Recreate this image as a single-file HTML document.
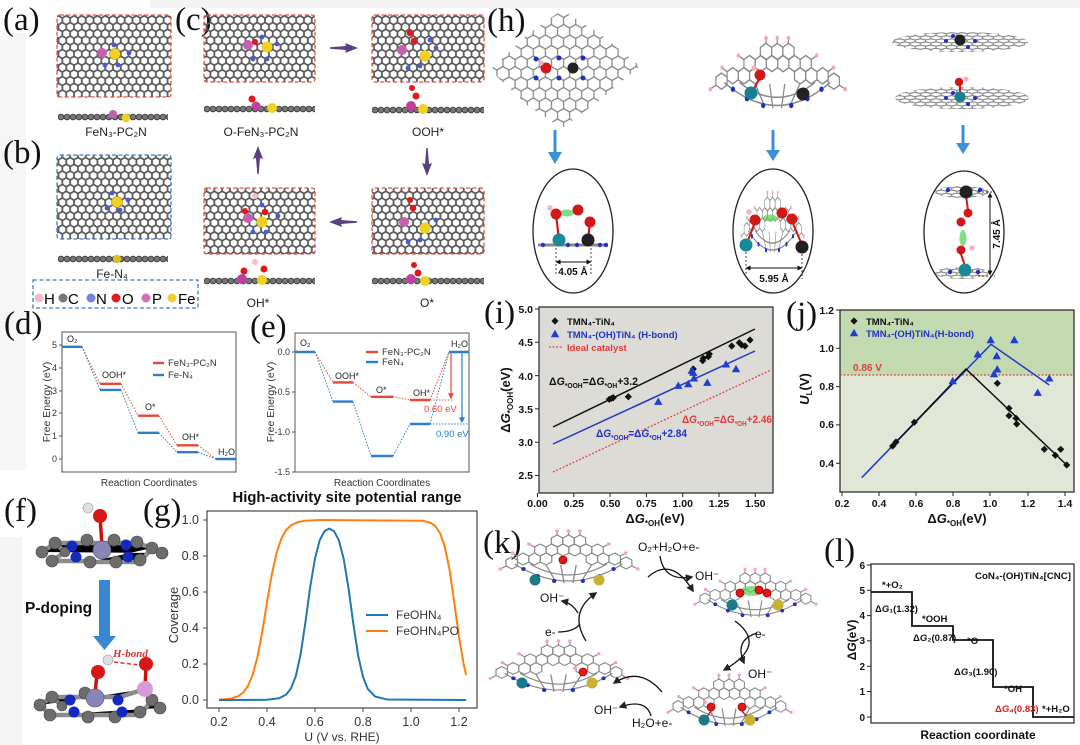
<!DOCTYPE html>
<html><head><meta charset="utf-8">
<style>
html,body{margin:0;padding:0;background:#fff;width:1080px;height:745px;overflow:hidden}
svg{display:block}
text{font-family:"Liberation Sans",Arial,sans-serif}
.lab{font-family:"Liberation Serif","Times New Roman",serif;font-size:33px;fill:#111}
.b{font-weight:bold}
</style></head><body>
<svg xmlns="http://www.w3.org/2000/svg" xmlns:xlink="http://www.w3.org/1999/xlink" width="1080" height="745" viewBox="0 0 1080 745">
<defs>
<pattern id="hexA" width="7.794" height="13.5" patternUnits="userSpaceOnUse"><path d="M3.897,0V2.25L7.794,4.5V9L3.897,11.25L0,9V4.5L3.897,2.25M3.897,11.25V13.5" fill="none" stroke="#5a5a5a" stroke-width="1.8"/></pattern>
<pattern id="hexH" width="12.12" height="21" patternUnits="userSpaceOnUse"><path d="M6.06,0V3.5L12.12,7V14L6.06,17.5L0,14V7L6.06,3.5M6.06,17.5V21" fill="none" stroke="#8a8a8a" stroke-width="1.3"/></pattern>
<pattern id="hexF" width="10.4" height="6.3" patternUnits="userSpaceOnUse"><path d="M5.2,0V1.05L10.4,2.1V4.2L5.2,5.25L0,4.2V2.1L5.2,1.05M5.2,5.25V6.3" fill="none" stroke="#808080" stroke-width="1.1"/></pattern>
<pattern id="chain" width="6" height="8" patternUnits="userSpaceOnUse"><circle cx="3" cy="4" r="2.9" fill="#777" stroke="#333" stroke-width="0.8"/></pattern>
<path id="hx" d="M0,-6L5.2,-3V3L0,6L-5.2,3V-3Z" fill="none" stroke="#8a8a8a" stroke-width="1.1"/>
<path id="dm" d="M0,-3.6L3.6,0L0,3.6L-3.6,0Z" fill="#111"/>
<path id="tr" d="M0,-4.2L4.2,3.2L-4.2,3.2Z" fill="#1f3fd0"/>
<marker id="ah" viewBox="0 0 10 10" refX="8" refY="5" markerWidth="6" markerHeight="6" orient="auto"><path d="M0,0L10,5L0,10z" fill="#222"/></marker>
<marker id="ahr" viewBox="0 0 10 10" refX="8" refY="5" markerWidth="5" markerHeight="5" orient="auto"><path d="M0,0L10,5L0,10z" fill="#e8473a"/></marker>
<marker id="ahb" viewBox="0 0 10 10" refX="8" refY="5" markerWidth="5" markerHeight="5" orient="auto"><path d="M0,0L10,5L0,10z" fill="#2a7fc8"/></marker>
<marker id="ahk" viewBox="0 0 10 10" refX="5" refY="5" markerWidth="5" markerHeight="5" orient="auto-start-reverse"><path d="M0,0L10,5L0,10z" fill="#111"/></marker>
<g id="bowl">
 <use href="#hx" x="54.6" y="7"/><use href="#hx" x="65" y="7"/><use href="#hx" x="75.4" y="7"/>
 <use href="#hx" x="39.4" y="16"/><use href="#hx" x="49.8" y="16"/><use href="#hx" x="60.2" y="16"/><use href="#hx" x="70.6" y="16"/><use href="#hx" x="81" y="16"/><use href="#hx" x="91.4" y="16"/>
 <use href="#hx" x="23.8" y="25"/><use href="#hx" x="34.2" y="25"/><use href="#hx" x="44.6" y="25"/><use href="#hx" x="86.2" y="25"/><use href="#hx" x="96.6" y="25"/><use href="#hx" x="107" y="25"/>
 <use href="#hx" x="13.4" y="29"/><use href="#hx" x="117.4" y="29"/>
 <path d="M54.6,1V-3M65,1V-3M75.4,1V-3M34,13L29,10M96.6,13L101.6,10M8.2,32L3,35M122.6,32L128,35M18.6,22L14,19M112.2,22L117,19" stroke="#8a8a8a" stroke-width="1.1"/>
 <g fill="#f2a8b4"><circle cx="54.6" cy="-3" r="1.7"/><circle cx="65" cy="-3" r="1.7"/><circle cx="75.4" cy="-3" r="1.7"/><circle cx="29" cy="10" r="1.7"/><circle cx="101.6" cy="10" r="1.7"/><circle cx="3" cy="35" r="1.7"/><circle cx="128" cy="35" r="1.7"/><circle cx="14" cy="19" r="1.7"/><circle cx="117" cy="19" r="1.7"/></g>
 <path d="M16,30Q65,64 114,30M30,30Q65,52 100,30M44.6,31L52,45M86,31L78,45M58,31L61,49M72,31L69,49" fill="none" stroke="#8a8a8a" stroke-width="1.2"/>
 <g fill="#1b30c8"><circle cx="24" cy="35" r="2"/><circle cx="37" cy="42" r="2"/><circle cx="52" cy="47" r="2"/><circle cx="78" cy="47" r="2"/><circle cx="93" cy="42" r="2"/><circle cx="106" cy="35" r="2"/></g>
</g>
<clipPath id="flk"><polygon points="490,70 528,34 562,10 600,34 640,66 600,100 562,128 528,106"/></clipPath>
</defs>

<rect width="1080" height="745" fill="#fff"/>
<rect x="150" y="0" width="930" height="8" fill="#f3f3f3"/>
<rect x="0" y="33" width="26" height="437" fill="#f6f6f6"/>
<rect x="0" y="537" width="22" height="208" fill="#f5f5f5"/>

<!-- (a) -->
<text class="lab" x="3" y="30">(a)</text>
<rect x="57" y="15" width="114" height="82" fill="url(#hexA)"/>
<rect x="57" y="15" width="114" height="82" fill="none" stroke="#e8503a" stroke-width="1.3" stroke-dasharray="4 2.5" rx="3"/>
<g fill="#4a5ad0"><circle cx="114" cy="45" r="2.4"/><circle cx="129" cy="53" r="2.4"/><circle cx="105" cy="65" r="2.4"/><circle cx="118" cy="65" r="2.4"/></g>
<circle cx="102" cy="53" r="5" fill="#c860b0"/>
<circle cx="115" cy="54" r="5.5" fill="#f0d020" stroke="#b09000" stroke-width=".6"/>
<g transform="translate(58,113)"><rect width="110" height="8" fill="url(#chain)"/></g>
<circle cx="113" cy="114" r="4" fill="#c860b0"/><circle cx="126" cy="118" r="4.2" fill="#f0d020"/>
<text x="116" y="136" font-size="12" text-anchor="middle" fill="#222">FeN₃-PC₂N</text>

<!-- (b) -->
<text class="lab" x="3" y="163">(b)</text>
<rect x="57" y="155" width="114" height="84" fill="url(#hexA)"/>
<rect x="57" y="155" width="114" height="84" fill="none" stroke="#3c7dc4" stroke-width="1.3" stroke-dasharray="4 2.5" rx="3"/>
<g fill="#4a5ad0"><circle cx="112" cy="193" r="2.4"/><circle cx="128" cy="200" r="2.4"/><circle cx="107" cy="208" r="2.4"/><circle cx="120" cy="210" r="2.4"/></g>
<circle cx="117" cy="202" r="5.5" fill="#f0d020" stroke="#b09000" stroke-width=".6"/>
<g transform="translate(58,255)"><rect width="110" height="8" fill="url(#chain)"/></g>
<circle cx="117" cy="259" r="4.2" fill="#d8c020"/>
<text x="112" y="278" font-size="12" text-anchor="middle" fill="#222">Fe-N₄</text>
<rect x="33" y="280" width="165" height="28" fill="none" stroke="#3c7dc4" stroke-width="1.3" stroke-dasharray="4 2.5"/>
<circle cx="39" cy="298" r="4.5" fill="#f4bccb"/><text x="44" y="304" font-size="15">H</text>
<circle cx="63" cy="298" r="4.5" fill="#777"/><text x="68" y="304" font-size="15">C</text>
<circle cx="91" cy="298" r="4.5" fill="#7482dc"/><text x="96" y="304" font-size="15">N</text>
<circle cx="116" cy="298" r="4.5" fill="#e02020"/><text x="122" y="304" font-size="15">O</text>
<circle cx="146" cy="298" r="4.5" fill="#d070b8"/><text x="152" y="304" font-size="15">P</text>
<circle cx="172" cy="298" r="4.5" fill="#f0d030"/><text x="178" y="304" font-size="15">Fe</text>

<!-- (c) -->
<text class="lab" x="175" y="30">(c)</text>
<g>
<rect x="204" y="15" width="111" height="67" fill="url(#hexA)"/>
<rect x="204" y="15" width="111" height="67" fill="none" stroke="#e8503a" stroke-width="1.3" stroke-dasharray="4 2.5" rx="3"/>
<rect x="372" y="15" width="112" height="67" fill="url(#hexA)"/>
<rect x="372" y="15" width="112" height="67" fill="none" stroke="#e8503a" stroke-width="1.3" stroke-dasharray="4 2.5" rx="3"/>
<rect x="204" y="188" width="111" height="66" fill="url(#hexA)"/>
<rect x="204" y="188" width="111" height="66" fill="none" stroke="#e8503a" stroke-width="1.3" stroke-dasharray="4 2.5" rx="3"/>
<rect x="372" y="188" width="112" height="66" fill="url(#hexA)"/>
<rect x="372" y="188" width="112" height="66" fill="none" stroke="#e8503a" stroke-width="1.3" stroke-dasharray="4 2.5" rx="3"/>
</g>
<g fill="#4a5ad0">
<circle cx="262" cy="37" r="2.4"/><circle cx="277" cy="44" r="2.4"/><circle cx="253" cy="59" r="2.4"/><circle cx="267" cy="59" r="2.4"/>
<circle cx="436" cy="48" r="2.4"/><circle cx="420" cy="66" r="2.4"/><circle cx="408" cy="68" r="2.4"/><circle cx="430" cy="40" r="2.4"/>
<circle cx="278" cy="216" r="2.4"/><circle cx="253" cy="232" r="2.4"/><circle cx="266" cy="232" r="2.4"/><circle cx="262" cy="205" r="2.4"/>
<circle cx="436" cy="220" r="2.4"/><circle cx="420" cy="240" r="2.4"/><circle cx="408" cy="242" r="2.4"/>
</g>
<circle cx="248" cy="45" r="5" fill="#c860b0"/><circle cx="255" cy="42" r="3" fill="#e01818"/><circle cx="267" cy="47" r="5.5" fill="#f0d020"/>
<circle cx="402" cy="50" r="5" fill="#c860b0"/><circle cx="410" cy="33" r="3.3" fill="#e01818"/><circle cx="414" cy="41" r="3.3" fill="#e01818"/><circle cx="425" cy="56" r="5.5" fill="#f0d020"/>
<circle cx="255" cy="196" r="3" fill="#f4c0c0"/><circle cx="248" cy="218" r="5" fill="#c860b0"/><circle cx="245" cy="211" r="3" fill="#e01818"/><circle cx="265" cy="212" r="3.3" fill="#e01818"/><circle cx="262" cy="222" r="5.5" fill="#f0d020"/>
<circle cx="404" cy="222" r="5" fill="#c860b0"/><circle cx="410" cy="200" r="3" fill="#e01818"/><circle cx="413" cy="208" r="3.3" fill="#e01818"/><circle cx="425" cy="228" r="5.5" fill="#f0d020"/>
<g transform="translate(204,105)"><rect width="111" height="8" fill="url(#chain)"/></g>
<g transform="translate(372,106)"><rect width="112" height="8" fill="url(#chain)"/></g>
<g transform="translate(204,277)"><rect width="111" height="8" fill="url(#chain)"/></g>
<g transform="translate(372,277)"><rect width="112" height="8" fill="url(#chain)"/></g>
<circle cx="252" cy="99" r="3.5" fill="#e01818"/><circle cx="256" cy="106" r="4.5" fill="#c040a0"/><circle cx="272" cy="108" r="5" fill="#f0d020"/>
<circle cx="412" cy="88" r="3" fill="#e01818"/><circle cx="416" cy="96" r="3.5" fill="#e01818"/><circle cx="411" cy="106" r="5" fill="#c040a0"/><circle cx="423" cy="109" r="5" fill="#f0d020"/>
<circle cx="255" cy="262" r="3" fill="#f4c0c0"/><circle cx="244" cy="271" r="3.5" fill="#e01818"/><circle cx="264" cy="269" r="3.5" fill="#e01818"/><circle cx="242" cy="279" r="5" fill="#c040a0"/><circle cx="262" cy="280" r="5" fill="#f0d020"/>
<circle cx="414" cy="265" r="3" fill="#e01818"/><circle cx="418" cy="273" r="3.5" fill="#e01818"/><circle cx="411" cy="279" r="5" fill="#c040a0"/><circle cx="425" cy="281" r="5" fill="#f0d020"/>
<text x="261" y="136" font-size="12" text-anchor="middle" fill="#222">O-FeN₃-PC₂N</text>
<text x="428" y="136" font-size="12" text-anchor="middle" fill="#222">OOH*</text>
<text x="258" y="307" font-size="12" text-anchor="middle" fill="#222">OH*</text>
<text x="427" y="307" font-size="12" text-anchor="middle" fill="#222">O*</text>
<g fill="#5b3f7e">
<polygon points="330,47.3 346,46 345,43 358,48 345,53 346,50 330,48.7"/>
<polygon points="357,221.3 341,220 342,217 329,222 342,227 341,224 357,222.7"/>
<polygon points="426.3,148 425,164 422,163 427,176 432,163 429,164 427.7,148"/>
<polygon points="257.3,174 256,158 253,159 258,146 263,159 260,158 258.7,174"/>
</g>

<!-- (d) -->
<text class="lab" x="4" y="334">(d)</text>
<rect x="62" y="332" width="174" height="140" fill="none" stroke="#555" stroke-width="1"/>
<g stroke="#555" stroke-width="1"><path d="M59,345H62M59,368H62M59,391H62M59,413H62M59,436H62M59,459H62"/></g>
<g font-size="9" fill="#333" text-anchor="end"><text x="57" y="348">5</text><text x="57" y="371">4</text><text x="57" y="394">3</text><text x="57" y="416">2</text><text x="57" y="439">1</text><text x="57" y="462">0</text></g>
<text transform="translate(50,402) rotate(-90)" font-size="10.5" text-anchor="middle" fill="#333">Free Energy (eV)</text>
<text x="149" y="486" font-size="10" text-anchor="middle" fill="#333">Reaction Coordinates</text>
<g stroke-width="1" stroke-dasharray="1.5 1.5" fill="none">
<path d="M82,346.8L100,383.8M121,383.8L138,415.7M159,415.7L177,445.3M198,445.3L216,459" stroke="#e8473a"/>
<path d="M82,346.8L100,389.9M121,389.9L138,432.8M159,432.8L177,452.2M198,452.2L216,459" stroke="#2a7fc8"/>
</g>
<g stroke-width="2.4">
<path d="M100,383.8H121M138,415.7H159M177,445.3H198" stroke="#e8473a"/>
<path d="M62,346.8H82M100,389.9H121M138,432.8H159M177,452.2H198M216,459H236" stroke="#2a7fc8"/>
</g>
<path d="M153,363H164" stroke="#e8473a" stroke-width="2.4"/><path d="M153,375H164" stroke="#2a7fc8" stroke-width="2.4"/>
<text x="168" y="366" font-size="9.5" fill="#333">FeN₃-PC₂N</text>
<text x="168" y="378" font-size="9.5" fill="#333">Fe-N₄</text>
<g font-size="9" fill="#222"><text x="67" y="342">O₂</text><text x="102" y="378">OOH*</text><text x="145" y="410">O*</text><text x="182" y="440">OH*</text><text x="218" y="455">H₂O</text></g>

<!-- (e) -->
<text class="lab" x="250" y="337">(e)</text>
<rect x="295" y="333" width="174" height="139" fill="none" stroke="#555" stroke-width="1"/>
<g stroke="#555" stroke-width="1"><path d="M292,352H295M292,392H295M292,432H295M292,472H295"/></g>
<g font-size="9" fill="#333" text-anchor="end"><text x="290" y="355">0.0</text><text x="290" y="395">-0.5</text><text x="290" y="435">-1.0</text><text x="290" y="475">-1.5</text></g>
<text transform="translate(274,402) rotate(-90)" font-size="10.5" text-anchor="middle" fill="#333">Free Energy (eV)</text>
<text x="382" y="486" font-size="10" text-anchor="middle" fill="#333">Reaction Coordinates</text>
<g stroke-width="1" stroke-dasharray="1.5 1.5" fill="none">
<path d="M315,352L333,382.4M353,382.4L371,396.8M393,396.8L410,400M430,400L449,352M430,400H453" stroke="#e8473a"/>
<path d="M315,352L333,401.6M353,401.6L371,456M393,456L410,424M430,424L449,352M430,424H469" stroke="#2a7fc8"/>
</g>
<g stroke-width="2.4">
<path d="M333,382.4H353M371,396.8H393M410,400H430" stroke="#e8473a"/>
<path d="M295,352H315M333,401.6H353M371,456H393M410,424H430M449,352H469" stroke="#2a7fc8"/>
</g>
<path d="M451,353V398" stroke="#e8473a" stroke-width="1.2" marker-end="url(#ahr)"/>
<path d="M462,353V422" stroke="#2a7fc8" stroke-width="1.2" marker-end="url(#ahb)"/>
<text x="424" y="412" font-size="9.5" fill="#e8473a">0.60 eV</text>
<text x="436" y="437" font-size="9.5" fill="#2a7fc8">0.90 eV</text>
<path d="M366,352H378" stroke="#e8473a" stroke-width="2.4"/><path d="M366,362H378" stroke="#2a7fc8" stroke-width="2.4"/>
<text x="382" y="355" font-size="9.5" fill="#333">FeN₃-PC₂N</text>
<text x="382" y="365" font-size="9.5" fill="#333">FeN₄</text>
<g font-size="9" fill="#222"><text x="300" y="346">O₂</text><text x="335" y="379">OOH*</text><text x="376" y="393">O*</text><text x="413" y="396">OH*</text><text x="451" y="347">H₂O</text></g>

<!-- (f) -->
<text class="lab" x="4" y="521">(f)</text>
<g stroke="#8c8c8c" stroke-width="4.5" stroke-linecap="round"><path d="M42,552L55,543H137L152,548L162,553M52,561L65,552M55,543L65,552M90,562H140L152,548M52,561H90"/></g>
<path d="M100,517L102,545" stroke="#d01010" stroke-width="3.5"/>
<g fill="#6d6d6d" stroke="#444" stroke-width=".6"><circle cx="42" cy="552" r="6"/><circle cx="55" cy="543" r="6"/><circle cx="52" cy="561" r="6"/><circle cx="87" cy="540" r="6"/><circle cx="90" cy="562" r="6"/><circle cx="114" cy="540" r="6"/><circle cx="116" cy="562" r="6"/><circle cx="137" cy="542" r="6"/><circle cx="140" cy="560" r="6"/><circle cx="152" cy="548" r="6"/><circle cx="162" cy="553" r="6"/><circle cx="65" cy="552" r="5"/></g>
<g fill="#1528c0"><circle cx="72" cy="546" r="5.5"/><circle cx="76" cy="557" r="5.5"/><circle cx="126" cy="545" r="5.5"/><circle cx="128" cy="557" r="5.5"/></g>
<circle cx="102" cy="550" r="9" fill="#8886b8" stroke="#555" stroke-width=".6"/>
<circle cx="100" cy="516" r="7" fill="#d81818"/><circle cx="88" cy="508" r="5" fill="#dedede" stroke="#999" stroke-width=".6"/>
<polygon points="99,580 110,580 110,636 116,636 104.5,650 93,636 99,636" fill="#3a86d0"/>
<text x="25" y="613" font-size="15.5" class="b" fill="#111">P-doping</text>
<g stroke="#8c8c8c" stroke-width="4.5" stroke-linecap="round"><path d="M40,705L52,697H120L145,689M50,715H140L152,700L160,708M40,705L50,715M62,706L52,697"/></g>
<path d="M97,674L95,694M145,689L146,666" stroke="#d01010" stroke-width="3.5"/>
<g fill="#6d6d6d" stroke="#444" stroke-width=".6"><circle cx="40" cy="705" r="6"/><circle cx="52" cy="697" r="6"/><circle cx="50" cy="715" r="6"/><circle cx="85" cy="693" r="6"/><circle cx="88" cy="717" r="6"/><circle cx="140" cy="712" r="6"/><circle cx="152" cy="700" r="6"/><circle cx="160" cy="708" r="6"/><circle cx="62" cy="706" r="5"/><circle cx="115" cy="717" r="6"/></g>
<g fill="#1528c0"><circle cx="70" cy="700" r="5.5"/><circle cx="74" cy="712" r="5.5"/><circle cx="118" cy="700" r="5.5"/><circle cx="122" cy="712" r="5.5"/></g>
<circle cx="95" cy="698" r="9" fill="#8886b8" stroke="#555" stroke-width=".6"/>
<circle cx="145" cy="689" r="8" fill="#d59ad8"/>
<circle cx="146" cy="664" r="7" fill="#d81818"/>
<circle cx="98" cy="672" r="7" fill="#d81818"/><circle cx="108" cy="660" r="5" fill="#dedede" stroke="#999" stroke-width=".6"/>
<path d="M114,662L139,665" stroke="#e03030" stroke-width="1.5" stroke-dasharray="4 2.5"/>
<text x="113" y="657" font-size="11" fill="#e03030" font-style="italic" font-weight="bold" style="font-family:'Liberation Serif',serif">H-bond</text>

<!-- (g) -->
<text class="lab" x="143" y="521">(g)</text>
<text x="347" y="502" font-size="15" class="b" text-anchor="middle" fill="#111" textLength="229" lengthAdjust="spacingAndGlyphs">High-activity site potential range</text>
<rect x="207" y="511" width="270" height="197" fill="none" stroke="#444" stroke-width="1.2"/>
<g stroke="#444" stroke-width="1"><path d="M203,520H207M203,556H207M203,592H207M203,628H207M203,664H207M203,700H207M219,708V712M267,708V712M315,708V712M363,708V712M411,708V712M459,708V712"/></g>
<g font-size="12.5" fill="#333" text-anchor="end"><text x="199" y="524">1.0</text><text x="199" y="560">0.8</text><text x="199" y="596">0.6</text><text x="199" y="632">0.4</text><text x="199" y="668">0.2</text><text x="199" y="704">0.0</text></g>
<g font-size="12.5" fill="#333" text-anchor="middle"><text x="219" y="726">0.2</text><text x="267" y="726">0.4</text><text x="315" y="726">0.6</text><text x="363" y="726">0.8</text><text x="411" y="726">1.0</text><text x="459" y="726">1.2</text></g>
<text x="342" y="741" font-size="12" text-anchor="middle" fill="#333">U (V vs. RHE)</text>
<text transform="translate(178,615) rotate(-90)" font-size="13" text-anchor="middle" fill="#333">Coverage</text>
<polyline fill="none" stroke="#ff7f0e" stroke-width="2" points="219,699.7 231,698.6 238.2,696.2 243,692.8 247.8,686.3 252.6,675.1 257.4,657.3 262.2,632 267,602.4 271.8,574.5 276.6,552.8 281.4,538.5 286.2,530 291,525.3 298.2,522 305.4,520.7 319.8,520 423,520.8 430.2,522.7 435,525.9 439.8,532.6 444.6,545.9 449.4,569.1 454.2,601.9 459,637 463.8,664.9 466.2,675"/>
<polyline fill="none" stroke="#1f77b4" stroke-width="2" points="219,700 267,699.8 279,698.3 286.2,694.6 291,688.4 295.8,676.2 300.6,654.4 305.4,622.5 310.2,587.1 315,558.3 319.8,540 324.6,531 329.4,528.6 334.2,531.3 339,540.7 343.8,559.5 348.6,588.8 353.4,624.2 358.2,655.7 363,677 367.8,688.9 375,696.5 387,699.5 466.2,700"/>
<path d="M366,615H388" stroke="#1f77b4" stroke-width="2"/><path d="M366,631H388" stroke="#ff7f0e" stroke-width="2"/>
<text x="396" y="619" font-size="12" fill="#333">FeOHN₄</text>
<text x="396" y="635" font-size="12" fill="#333">FeOHN₄PO</text>

<!-- (h) -->
<text class="lab" x="487" y="31">(h)</text>
<rect x="488" y="8" width="154" height="122" fill="url(#hexH)" clip-path="url(#flk)"/>
<g fill="#2030c0"><circle cx="536" cy="59" r="2.5"/><circle cx="536" cy="78" r="2.5"/><circle cx="559" cy="58" r="2.5"/><circle cx="559" cy="78" r="2.5"/><circle cx="583" cy="58" r="2.5"/><circle cx="583" cy="78" r="2.5"/></g>
<circle cx="546" cy="68" r="5.5" fill="#d01818"/><circle cx="541" cy="63" r="2.6" fill="#f2b0b8"/>
<circle cx="573" cy="68" r="5.5" fill="#222"/>
<use href="#bowl" transform="translate(707,42) scale(1.08,1.35)"/>
<path d="M760,77L753,91" stroke="#d01818" stroke-width="2"/>
<circle cx="760" cy="75" r="5.5" fill="#d01818"/><circle cx="754" cy="68" r="2.6" fill="#f2b0b8"/>
<circle cx="751" cy="93" r="6.5" fill="#1a8090"/><circle cx="803" cy="94" r="6.5" fill="#222"/>
<ellipse cx="960" cy="42" rx="68" ry="10" fill="url(#hexF)"/>
<g fill="#2030c0"><circle cx="946" cy="41" r="2"/><circle cx="975" cy="41" r="2"/><circle cx="953" cy="36" r="2"/><circle cx="968" cy="47" r="2"/></g>
<circle cx="960" cy="40" r="5.5" fill="#222"/>
<ellipse cx="962" cy="98" rx="67" ry="11" fill="url(#hexF)"/>
<g fill="#2030c0"><circle cx="946" cy="98" r="2"/><circle cx="975" cy="98" r="2"/><circle cx="953" cy="93" r="2"/><circle cx="968" cy="104" r="2"/></g>
<path d="M960,86V93" stroke="#d01818" stroke-width="2"/>
<circle cx="960" cy="97" r="5.5" fill="#1a8090"/><circle cx="959" cy="82" r="4.2" fill="#d01818"/><circle cx="966" cy="79" r="2.5" fill="#f2b0b8"/>
<g fill="#3d8fd8">
<polygon points="553.5,130 556.5,130 556.5,152 562,152 555,164 548,152 553.5,152"/>
<polygon points="771.5,130 774.5,130 774.5,150 780,150 773,161 766,150 771.5,150"/>
<polygon points="961.5,125 964.5,125 964.5,143 970,143 963,154 956,143 961.5,143"/>
</g>
<ellipse cx="573" cy="231" rx="40" ry="62" fill="#fff" stroke="#222" stroke-width="1.3"/>
<ellipse cx="773" cy="231" rx="40" ry="62" fill="#fff" stroke="#222" stroke-width="1.3"/>
<ellipse cx="964" cy="232" rx="40" ry="61" fill="#fff" stroke="#222" stroke-width="1.3"/>
<!-- inset 1 -->
<path d="M538,245H608" stroke="#888" stroke-width="3"/>
<g fill="#2030c0"><circle cx="543" cy="245" r="2.2"/><circle cx="568" cy="245" r="2.2"/><circle cx="577" cy="245" r="2.2"/><circle cx="600" cy="245" r="2.2"/><circle cx="606" cy="245" r="2.2"/></g>
<path d="M556,214L559,240M590,222L588,240" stroke="#d01818" stroke-width="2.2"/>
<ellipse cx="567" cy="213" rx="7" ry="3.5" fill="#50d050" opacity=".7"/>
<circle cx="559" cy="240" r="6.5" fill="#1a8a98"/><circle cx="588" cy="240" r="6.5" fill="#202020"/>
<circle cx="556" cy="214" r="5.5" fill="#d01818"/><circle cx="550" cy="208" r="2.8" fill="#f2b8c0"/>
<circle cx="578" cy="210" r="5.5" fill="#d01818"/><circle cx="590" cy="222" r="5.5" fill="#d01818"/>
<path d="M556,248V276M591,248V276" stroke="#333" stroke-width=".9" stroke-dasharray="2 2"/>
<path d="M558,262H589" stroke="#111" stroke-width="1" marker-start="url(#ahk)" marker-end="url(#ahk)"/>
<text x="573" y="275" font-size="10" class="b" text-anchor="middle" fill="#111">4.05 Å</text>
<!-- inset 2 -->
<use href="#bowl" transform="translate(740,196) scale(0.5,1.15)"/>
<ellipse cx="770" cy="218" rx="7" ry="3.5" fill="#50d050" opacity=".7"/>
<path d="M755,222L747,243M792,221L802,245" stroke="#d01818" stroke-width="2"/>
<circle cx="755" cy="220" r="5.5" fill="#d01818"/><circle cx="749" cy="212" r="2.8" fill="#f2b8c0"/>
<circle cx="782" cy="213" r="5.5" fill="#d01818"/><circle cx="792" cy="219" r="5.5" fill="#d01818"/>
<circle cx="746" cy="245" r="6.5" fill="#1a8a98"/><circle cx="802" cy="247" r="6.5" fill="#202020"/>
<path d="M746,252V279M802,254V279" stroke="#333" stroke-width=".9" stroke-dasharray="2 2"/>
<path d="M748,268H800" stroke="#111" stroke-width="1" marker-start="url(#ahk)" marker-end="url(#ahk)"/>
<text x="774" y="282" font-size="10" class="b" text-anchor="middle" fill="#111">5.95 Å</text>
<!-- inset 3 -->
<ellipse cx="962" cy="192" rx="27" ry="6" fill="url(#hexF)"/>
<ellipse cx="962" cy="273" rx="27" ry="6" fill="url(#hexF)"/>
<g fill="#2030c0"><circle cx="948" cy="190" r="2.2"/><circle cx="980" cy="190" r="2.2"/><circle cx="950" cy="272" r="2.2"/><circle cx="978" cy="272" r="2.2"/></g>
<path d="M966,196L968,210M961,254L965,266" stroke="#d01818" stroke-width="2"/>
<circle cx="966" cy="192" r="6.5" fill="#222"/>
<circle cx="968" cy="213" r="4.5" fill="#d01818"/><circle cx="961" cy="222" r="4.5" fill="#d01818"/>
<ellipse cx="963" cy="238" rx="3.5" ry="8" fill="#50d050" opacity=".7"/>
<circle cx="961" cy="250" r="4.5" fill="#d01818"/><circle cx="972" cy="248" r="2.8" fill="#f2b8c0"/>
<circle cx="965" cy="270" r="6.5" fill="#1a8a98"/>
<path d="M978,192H995M978,276H995" stroke="#333" stroke-width=".9" stroke-dasharray="2 2"/>
<path d="M990,195V273" stroke="#111" stroke-width="1" marker-start="url(#ahk)" marker-end="url(#ahk)"/>
<text transform="translate(1000,234) rotate(-90)" font-size="10" class="b" text-anchor="middle" fill="#111">7.45 Å</text>

<!-- (i) -->
<text class="lab" x="484" y="323">(i)</text>
<rect x="539" y="307" width="234" height="186" fill="#dcdbd6" stroke="#222" stroke-width="1.2"/>
<g stroke="#222" stroke-width="1"><path d="M535,309H539M535,342.3H539M535,375.6H539M535,408.9H539M535,442.2H539M535,475.5H539M537.5,493V497M573.8,493V497M610.1,493V497M646.4,493V497M682.7,493V497M719,493V497M755.3,493V497"/></g>
<g font-size="10.5" class="b" fill="#111" text-anchor="end"><text x="533" y="313">5.0</text><text x="533" y="346">4.5</text><text x="533" y="380">4.0</text><text x="533" y="413">3.5</text><text x="533" y="446">3.0</text><text x="533" y="479">2.5</text></g>
<g font-size="10.5" class="b" fill="#111" text-anchor="middle"><text x="537.5" y="507">0.00</text><text x="573.8" y="507">0.25</text><text x="610.1" y="507">0.50</text><text x="646.4" y="507">0.75</text><text x="682.7" y="507">1.00</text><text x="719" y="507">1.25</text><text x="755.3" y="507">1.50</text></g>
<text x="655" y="523" font-size="13" class="b" text-anchor="middle" fill="#111">Δ<tspan font-style="italic">G</tspan><tspan font-size="8" dy="3">*OH</tspan><tspan dy="-3">(eV)</tspan></text>
<text transform="translate(510,400) rotate(-90)" font-size="13" class="b" text-anchor="middle" fill="#111">Δ<tspan font-style="italic">G</tspan><tspan font-size="8" dy="3">*OOH</tspan><tspan dy="-3">(eV)</tspan></text>
<path d="M553,472L771,370" stroke="#e03c3c" stroke-width="1.3" stroke-dasharray="1.8 1.8"/>
<path d="M553,427L755,329" stroke="#111" stroke-width="1.5"/>
<path d="M553,444L755,351" stroke="#1f35c4" stroke-width="1.5"/>
<g><use href="#dm" x="609.3" y="399.3"/><use href="#dm" x="611.7" y="398.3"/><use href="#dm" x="613.3" y="397.7"/><use href="#dm" x="628.3" y="396.7"/><use href="#dm" x="693.3" y="369"/><use href="#dm" x="702.7" y="360.7"/><use href="#dm" x="703.3" y="358.3"/><use href="#dm" x="708.3" y="356.7"/><use href="#dm" x="709.3" y="354"/><use href="#dm" x="731.7" y="346"/><use href="#dm" x="739.3" y="342.7"/><use href="#dm" x="741.7" y="345"/><use href="#dm" x="745" y="346"/><use href="#dm" x="750" y="340"/></g>
<g><use href="#tr" x="658.3" y="401.7"/><use href="#tr" x="678.3" y="385.7"/><use href="#tr" x="688.3" y="384"/><use href="#tr" x="691.7" y="370.7"/><use href="#tr" x="693.3" y="372.7"/><use href="#tr" x="694" y="378.3"/><use href="#tr" x="707.3" y="382.7"/><use href="#tr" x="726" y="364.3"/><use href="#tr" x="736" y="369"/></g>
<use href="#dm" x="555" y="321"/><use href="#tr" x="555" y="334"/>
<path d="M549,347H562" stroke="#e03c3c" stroke-width="1.3" stroke-dasharray="1.8 1.8"/>
<text x="567" y="325" font-size="9.5" class="b" fill="#111">TMN₄-TiN₄</text>
<text x="567" y="338" font-size="9.5" class="b" fill="#1f35c4">TMN₄-(OH)TiN₄ (H-bond)</text>
<text x="567" y="351" font-size="9.5" class="b" fill="#e03c3c">Ideal catalyst</text>
<text x="549" y="385" font-size="11" class="b" fill="#111" textLength="89" lengthAdjust="spacingAndGlyphs">Δ<tspan font-style="italic">G</tspan><tspan font-size="7" dy="3">*OOH</tspan><tspan dy="-3">=Δ</tspan><tspan font-style="italic">G</tspan><tspan font-size="7" dy="3">*OH</tspan><tspan dy="-3">+3.2</tspan></text>
<text x="596" y="437" font-size="11" class="b" fill="#1f35c4" textLength="91" lengthAdjust="spacingAndGlyphs">Δ<tspan font-style="italic">G</tspan><tspan font-size="7" dy="3">*OOH</tspan><tspan dy="-3">=Δ</tspan><tspan font-style="italic">G</tspan><tspan font-size="7" dy="3">*OH</tspan><tspan dy="-3">+2.84</tspan></text>
<text x="682" y="423" font-size="11" class="b" fill="#e03c3c" textLength="90" lengthAdjust="spacingAndGlyphs">Δ<tspan font-style="italic">G</tspan><tspan font-size="7" dy="3">*OOH</tspan><tspan dy="-3">=Δ</tspan><tspan font-style="italic">G</tspan><tspan font-size="7" dy="3">*OH</tspan><tspan dy="-3">+2.46</tspan></text>

<!-- (j) -->
<text class="lab" x="786" y="324">(j)</text>
<rect x="840" y="310" width="234" height="65" fill="#c3d9b0"/>
<rect x="840" y="375" width="234" height="117" fill="#e1e7d7"/>
<rect x="840" y="310" width="234" height="182" fill="none" stroke="#222" stroke-width="1.2"/>
<path d="M840,375H1074" stroke="#e03c3c" stroke-width="1.3" stroke-dasharray="1.8 1.8"/>
<text x="853" y="371" font-size="10" class="b" fill="#e03c3c">0.86 V</text>
<g stroke="#222" stroke-width="1"><path d="M836,310H840M836,348.3H840M836,386.6H840M836,424.9H840M836,463.2H840M842,492V496M879,492V496M916,492V496M953,492V496M990,492V496M1028,492V496M1065,492V496"/></g>
<g font-size="10.5" class="b" fill="#111" text-anchor="end"><text x="834" y="314">1.2</text><text x="834" y="352">1.0</text><text x="834" y="390">0.8</text><text x="834" y="428">0.6</text><text x="834" y="467">0.4</text></g>
<g font-size="10.5" class="b" fill="#111" text-anchor="middle"><text x="842" y="507">0.2</text><text x="879" y="507">0.4</text><text x="916" y="507">0.6</text><text x="953" y="507">0.8</text><text x="990" y="507">1.0</text><text x="1028" y="507">1.2</text><text x="1065" y="507">1.4</text></g>
<text x="957" y="523" font-size="13" class="b" text-anchor="middle" fill="#111">Δ<tspan font-style="italic">G</tspan><tspan font-size="8" dy="3">*OH</tspan><tspan dy="-3">(eV)</tspan></text>
<text transform="translate(809,389) rotate(-90)" font-size="13" class="b" text-anchor="middle" fill="#111"><tspan font-style="italic">U</tspan><tspan font-size="8" dy="3">L</tspan><tspan dy="-3">(V)</tspan></text>
<path d="M861.7,477.7L991,344.3L1049.3,385" fill="none" stroke="#1f3cc8" stroke-width="1.5"/>
<path d="M890,448.3L966,369L1066.7,465" fill="none" stroke="#111" stroke-width="1.5"/>
<g><use href="#dm" x="892.7" y="446"/><use href="#dm" x="896" y="442"/><use href="#dm" x="914.3" y="422.3"/><use href="#dm" x="997.3" y="383.3"/><use href="#dm" x="1009" y="408.3"/><use href="#dm" x="1009" y="415.7"/><use href="#dm" x="1016" y="418.3"/><use href="#dm" x="1016.7" y="424"/><use href="#dm" x="1044.3" y="449.3"/><use href="#dm" x="1055.3" y="455.3"/><use href="#dm" x="1060.7" y="449.3"/><use href="#dm" x="1066.7" y="465"/></g>
<g><use href="#tr" x="952.7" y="381"/><use href="#tr" x="977.7" y="354.3"/><use href="#tr" x="990.7" y="340"/><use href="#tr" x="1014.3" y="340"/><use href="#tr" x="996.7" y="356"/><use href="#tr" x="994" y="374"/><use href="#tr" x="997.3" y="369.3"/><use href="#tr" x="1037.7" y="392.7"/><use href="#tr" x="1049.3" y="378.3"/></g>
<use href="#dm" x="854" y="321"/><use href="#tr" x="854" y="333"/>
<text x="866" y="325" font-size="9.5" class="b" fill="#111">TMN₄-TiN₄</text>
<text x="866" y="337" font-size="9.5" class="b" fill="#1f35c4">TMN₄-(OH)TiN₄(H-bond)</text>

<!-- (k) -->
<text class="lab" x="483" y="553">(k)</text>
<use href="#bowl" transform="translate(497,534) scale(1.1,1.0)"/>
<circle cx="535" cy="580" r="5.5" fill="#1a7a88"/><circle cx="599" cy="580" r="5.5" fill="#c8b030"/>
<circle cx="563" cy="560" r="4" fill="#e01818" stroke="#a00" stroke-width=".8"/>
<use href="#bowl" transform="translate(692,572) scale(0.97,0.92)"/>
<ellipse cx="752" cy="591" rx="12" ry="5" fill="#55d055" opacity=".7"/>
<circle cx="732" cy="605" r="5.5" fill="#1a7a88"/><circle cx="778" cy="605" r="5.5" fill="#c8b030"/>
<circle cx="740" cy="593" r="4" fill="#e01818" stroke="#a00" stroke-width=".8"/><circle cx="759" cy="590" r="4" fill="#e01818" stroke="#a00" stroke-width=".8"/><circle cx="767" cy="593" r="4" fill="#e01818" stroke="#a00" stroke-width=".8"/>
<use href="#bowl" transform="translate(665,678) scale(0.985,0.98)"/>
<path d="M711,711L706,718M742,711L748,718" stroke="#d01818" stroke-width="1.5"/>
<circle cx="704" cy="720" r="5.5" fill="#1a7a88"/><circle cx="750" cy="720" r="5.5" fill="#c8b030"/>
<circle cx="711" cy="707" r="4" fill="#e01818" stroke="#a00" stroke-width=".8"/><circle cx="742" cy="707" r="4" fill="#e01818" stroke="#a00" stroke-width=".8"/><circle cx="705" cy="702" r="2" fill="#f2a8b4"/>
<use href="#bowl" transform="translate(487,644) scale(1.1,0.98)"/>
<circle cx="522" cy="683" r="5.5" fill="#1a7a88"/><circle cx="592" cy="683" r="5.5" fill="#c8b030"/>
<circle cx="583" cy="672" r="4" fill="#e01818" stroke="#a00" stroke-width=".8"/><circle cx="575" cy="668" r="2" fill="#f2a8b4"/>
<g fill="none" stroke="#111" stroke-width="1.3">
<path d="M648,577Q672,556 693,591" marker-end="url(#ah)"/>
<path d="M660,556Q664,582 692,577" marker-end="url(#ah)"/>
<path d="M735,621Q768,645 724,670" marker-end="url(#ah)"/>
<path d="M757,633Q734,640 744,663" marker-end="url(#ah)"/>
<path d="M662,692Q640,666 614,683" marker-end="url(#ah)"/>
<path d="M651,716Q646,698 620,707" marker-end="url(#ah)"/>
<path d="M586,641Q568,612 596,593" marker-end="url(#ah)"/>
<path d="M578,613Q572,603 562,601" marker-end="url(#ah)"/>
<path d="M558,632Q574,632 580,624"/>
</g>
<g font-size="12" fill="#111">
<text x="638" y="551">O₂+H₂O+e-</text>
<text x="695" y="580">OH⁻</text>
<text x="755" y="638">e-</text>
<text x="748" y="678">OH⁻</text>
<text x="594" y="714">OH⁻</text>
<text x="632" y="727">H₂O+e-</text>
<text x="540" y="602">OH⁻</text>
<text x="545" y="636">e-</text>
</g>

<!-- (l) -->
<text class="lab" x="824" y="561">(l)</text>
<rect x="871" y="564" width="203" height="159" fill="none" stroke="#222" stroke-width="1.2"/>
<g stroke="#222" stroke-width="1"><path d="M867,565H871M867,590.3H871M867,615.6H871M867,640.9H871M867,666.2H871M867,691.5H871M867,717H871"/></g>
<g font-size="10" class="b" fill="#111" text-anchor="end"><text x="865" y="569">6</text><text x="865" y="594">5</text><text x="865" y="619">4</text><text x="865" y="644">3</text><text x="865" y="670">2</text><text x="865" y="695">1</text><text x="865" y="721">0</text></g>
<text transform="translate(856,640) rotate(-90)" font-size="12" class="b" text-anchor="middle" fill="#111">Δ<tspan font-style="italic">G</tspan>(eV)</text>
<text x="978" y="739" font-size="12" class="b" text-anchor="middle" fill="#111">Reaction coordinate</text>
<path d="M871,592H912V626H953V640H993V687H1033V717H1074" fill="none" stroke="#111" stroke-width="1.8"/>
<text x="975" y="579" font-size="9" class="b" fill="#111" textLength="96" lengthAdjust="spacingAndGlyphs">CoN₄-(OH)TiN₄[CNC]</text>
<g font-size="9.5" class="b" fill="#111">
<text x="882" y="588">*+O₂</text>
<text x="875" y="612">Δ<tspan font-style="italic">G</tspan>₁(1.32)</text>
<text x="922" y="622">*OOH</text>
<text x="913" y="641">Δ<tspan font-style="italic">G</tspan>₂(0.87)</text>
<text x="967" y="644">*O</text>
<text x="954" y="675">Δ<tspan font-style="italic">G</tspan>₃(1.90)</text>
<text x="1004" y="692">*OH</text>
<text x="995" y="712" fill="#d02020">Δ<tspan font-style="italic">G</tspan>₄(0.83)</text>
<text x="1042" y="712">*+H₂O</text>
</g>
</svg>
</body></html>
